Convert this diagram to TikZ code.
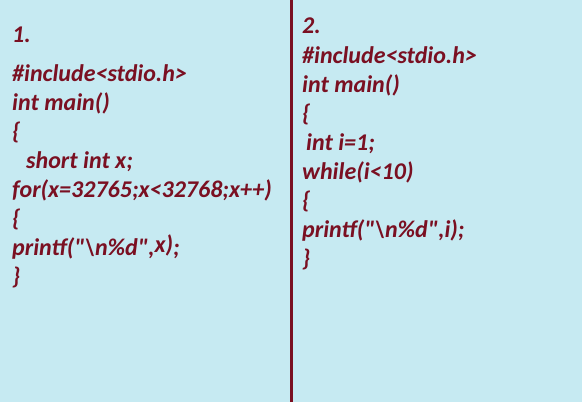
\documentclass[tikz,border=0pt]{standalone}
\usepackage{xcolor}
\usepackage{fontspec}
\newfontfamily\codefont{Carlito}
\definecolor{panelblue}{HTML}{C6EAF2}
\definecolor{codered}{HTML}{7A1022}

\begin{document}
\begin{tikzpicture}[x=1pt, y=1pt,
                    codeline/.style = {anchor=base west, inner sep=0pt, text=codered,
                                       font=\codefont\fontsize{24}{28}\selectfont\bfseries\itshape}]
                        \fill[panelblue] (0, 0) rectangle (582, 402);
                        \useasboundingbox (0, 0) rectangle (582, 402);

                        % divider
                        \coordinate (top) at (291, 402);
                        \coordinate (bottom) at (291, 0);
                        \draw[codered, line width=3pt] (top) -- (bottom);

                        % program 1
                        \node (L0) at (12, 359) [codeline] {1.};
                        \node (L1) at (12, 320) [codeline] {\#include<stdio.h>};
                        \node (L2) at (12, 291) [codeline] {int main()};
                        \node (L3) at (12, 262) [codeline] {\{};
                        \node (L4) at (26, 233) [codeline] {short int x;};
                        \node (L5) at (12, 204) [codeline] {for(x=32765;x<32768;x++)};
                        \node (L6) at (12, 175) [codeline] {\{};
                        \node (L7) at (12, 146) [codeline] {printf("\textbackslash n\%d",\raisebox{3pt}{x)};};
                        \node (L8) at (12, 117) [codeline] {\}};

                        % program 2
                        \node (R0) at (302, 368) [codeline] {2.};
                        \node (R1) at (302, 338) [codeline] {\#include<stdio.h>};
                        \node (R2) at (302, 309) [codeline] {int main()};
                        \node (R3) at (302, 280) [codeline] {\{};
                        \node (R4) at (306, 251) [codeline] {int i=1;};
                        \node (R5) at (302, 222) [codeline] {while(i<10)};
                        \node (R6) at (302, 193) [codeline] {\{};
                        \node (R7) at (302, 164) [codeline] {printf("\textbackslash n\%d",i);};
                        \node (R8) at (302, 135) [codeline] {\}};
                    \end{tikzpicture}
\end{document}
